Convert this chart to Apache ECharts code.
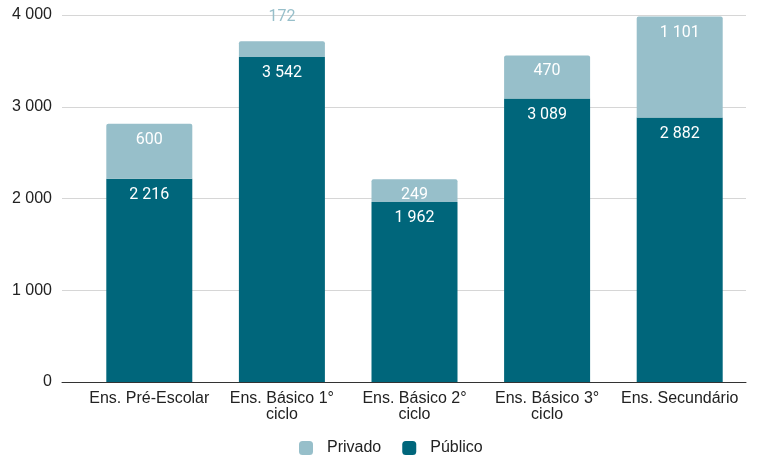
<!DOCTYPE html>
<html>
<head>
<meta charset="utf-8">
<script src="https://cdn.jsdelivr.net/npm/echarts@6/dist/echarts.min.js"></script>
<style>
  html, body { margin: 0; padding: 0; background: #fff; }
  #chart { width: 761px; height: 457px; }
</style>
</head>
<body>
<div id="chart"></div>
<script>
// Alunos por nível de ensino, setor público e privado
const categories = ['Ens. Pré-Escolar', 'Ens. Básico 1°\nciclo', 'Ens. Básico 2°\nciclo', 'Ens. Básico 3°\nciclo', 'Ens. Secundário'];
const publico = [2216, 3542, 1962, 3089, 2882];
const privado = [600, 172, 249, 470, 1101];
const yTicks = [0, 1000, 2000, 3000, 4000];

const DARK = '#00667b';
const LIGHT = '#97bfca';
const AXIS_FONT = 'Liberation Sans';
const LABEL_FONT = 'Roboto';

const fmt = v => String(v).replace(/\B(?=(\d{3})+(?!\d))/g, ' ');
const yMin = yTicks[0];
const yMax = yTicks[yTicks.length - 1];

const chart = echarts.init(document.getElementById('chart'));
chart.setOption({
  animation: false,
  // grid 0: gridlines, value labels and baseline; grid 1: the bars
  grid: [
    { left: 62, right: 15, top: 15, bottom: 75 },
    { left: 83, right: 15, top: 15, bottom: 75 }
  ],
  xAxis: [
    {
      gridIndex: 0,
      type: 'value',
      min: 0,
      max: 1,
      axisLine: { show: true, onZero: false, lineStyle: { color: '#333', width: 1 } },
      axisTick: { show: false },
      axisLabel: { show: false },
      splitLine: { show: false }
    },
    {
      gridIndex: 1,
      type: 'category',
      data: categories,
      axisLine: { show: false },
      axisTick: { show: false },
      axisLabel: {
        color: '#222',
        fontSize: 16,
        lineHeight: 16,
        margin: 9,
        fontFamily: AXIS_FONT,
        interval: 0
      }
    }
  ],
  yAxis: [
    {
      gridIndex: 0,
      type: 'value',
      min: yMin,
      max: yMax,
      interval: 1000,
      axisLine: { show: false },
      axisTick: { show: false },
      splitLine: { lineStyle: { color: '#d6d6d6', width: 1 } },
      axisLabel: {
        formatter: v => fmt(v),
        color: '#222',
        fontSize: 16,
        margin: 10,
        fontFamily: AXIS_FONT
      }
    },
    {
      gridIndex: 1,
      type: 'value',
      min: yMin,
      max: yMax,
      interval: 1000,
      show: false,
      splitLine: { show: false }
    }
  ],
  legend: {
    top: 440,
    left: 299,
    itemWidth: 14,
    itemHeight: 14,
    itemGap: 21,
    padding: 0,
    icon: 'roundRect',
    textStyle: { color: '#222', fontSize: 16, fontFamily: AXIS_FONT, padding: [0, 0, 0, 9] },
    data: ['Privado', 'Público']
  },
  series: [
    {
      name: 'Público',
      type: 'bar',
      xAxisIndex: 1,
      yAxisIndex: 1,
      stack: 'total',
      barWidth: 86,
      itemStyle: { color: DARK },
      label: {
        show: true,
        position: 'insideTop',
        distance: 8,
        color: '#fff',
        fontSize: 16,
        fontFamily: LABEL_FONT,
        formatter: p => fmt(p.value)
      },
      data: publico
    },
    {
      name: 'Privado',
      type: 'bar',
      xAxisIndex: 1,
      yAxisIndex: 1,
      stack: 'total',
      barWidth: 86,
      itemStyle: { color: LIGHT, borderRadius: [2, 2, 0, 0] },
      label: {
        show: true,
        position: 'insideTop',
        distance: 8,
        color: '#fff',
        fontSize: 16,
        fontFamily: LABEL_FONT,
        formatter: p => fmt(p.value)
      },
      data: privado.map(v => {
        // Values too small for an inside label are written above the bar
        if (v < 200) {
          return {
            value: v,
            label: { position: 'top', distance: 16, color: LIGHT }
          };
        }
        return v;
      })
    }
  ]
});
</script>
</body>
</html>
